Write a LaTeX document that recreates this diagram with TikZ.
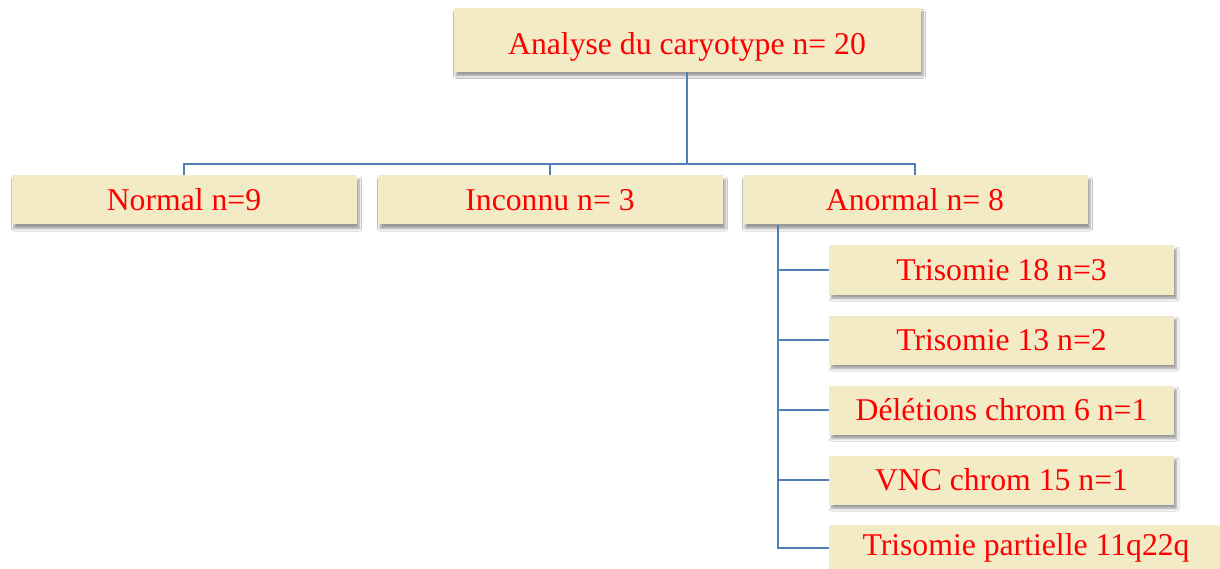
\documentclass[tikz,border=0pt]{standalone}
\usepackage{fontspec}
\setmainfont{Liberation Serif}
\usetikzlibrary{shadows.blur}
\definecolor{boxfill}{HTML}{F2EBC6}
\definecolor{linkblue}{HTML}{4F7FB3}
\definecolor{txtred}{HTML}{FF0000}
\begin{document}
\begin{tikzpicture}[x=1pt,y=-1pt,
  box/.style={fill=boxfill, draw=none, text=txtred, inner sep=0pt,
    font=\fontsize{31.7}{38}\selectfont, minimum width=345pt, minimum height=49pt,
    blur shadow={shadow xshift=2.5pt, shadow yshift=-4pt, shadow blur steps=6, shadow blur radius=2.5pt, shadow opacity=40}},
  link/.style={draw=linkblue, line width=2pt}]
\useasboundingbox (0,0) rectangle (1220,569);
\clip (0,0) rectangle (1220,569);
\fill[white] (0,0) rectangle (1220,569);
\coordinate (j) at (687,164);
\coordinate (v) at (778,224);
\node[box, minimum width=467pt, minimum height=64pt, text height=36pt, text depth=7pt] (top) at (687,40) {Analyse du caryotype n= 20};
\node[box] (normal) at (184,200) {Normal n=9};
\node[box] (inconnu) at (550,200) {Inconnu n= 3};
\node[box] (anormal) at (915,200) {Anormal n= 8};
\node[box] (t18) at (1001.5,270) {Trisomie 18 n=3};
\node[box] (t13) at (1001.5,340) {Trisomie 13 n=2};
\node[box] (del) at (1001.5,410) {Délétions chrom 6 n=1};
\node[box] (vnc) at (1001.5,480) {VNC chrom 15 n=1};
\node[box, minimum width=394pt, minimum height=46pt] (tp) at (1026,548) {Trisomie partielle 11q22q};
\draw[link] (top.south) -- (top.south |- j);
\draw[link] (normal.north) |- (anormal.north |- j) -- (anormal.north);
\draw[link] (inconnu.north) -- (inconnu.north |- j);
\draw[link] (v |- anormal.south) |- (tp.west);
\draw[link] (v |- t18.west) -- (t18.west);
\draw[link] (v |- t13.west) -- (t13.west);
\draw[link] (v |- del.west) -- (del.west);
\draw[link] (v |- vnc.west) -- (vnc.west);
\end{tikzpicture}
\end{document}
